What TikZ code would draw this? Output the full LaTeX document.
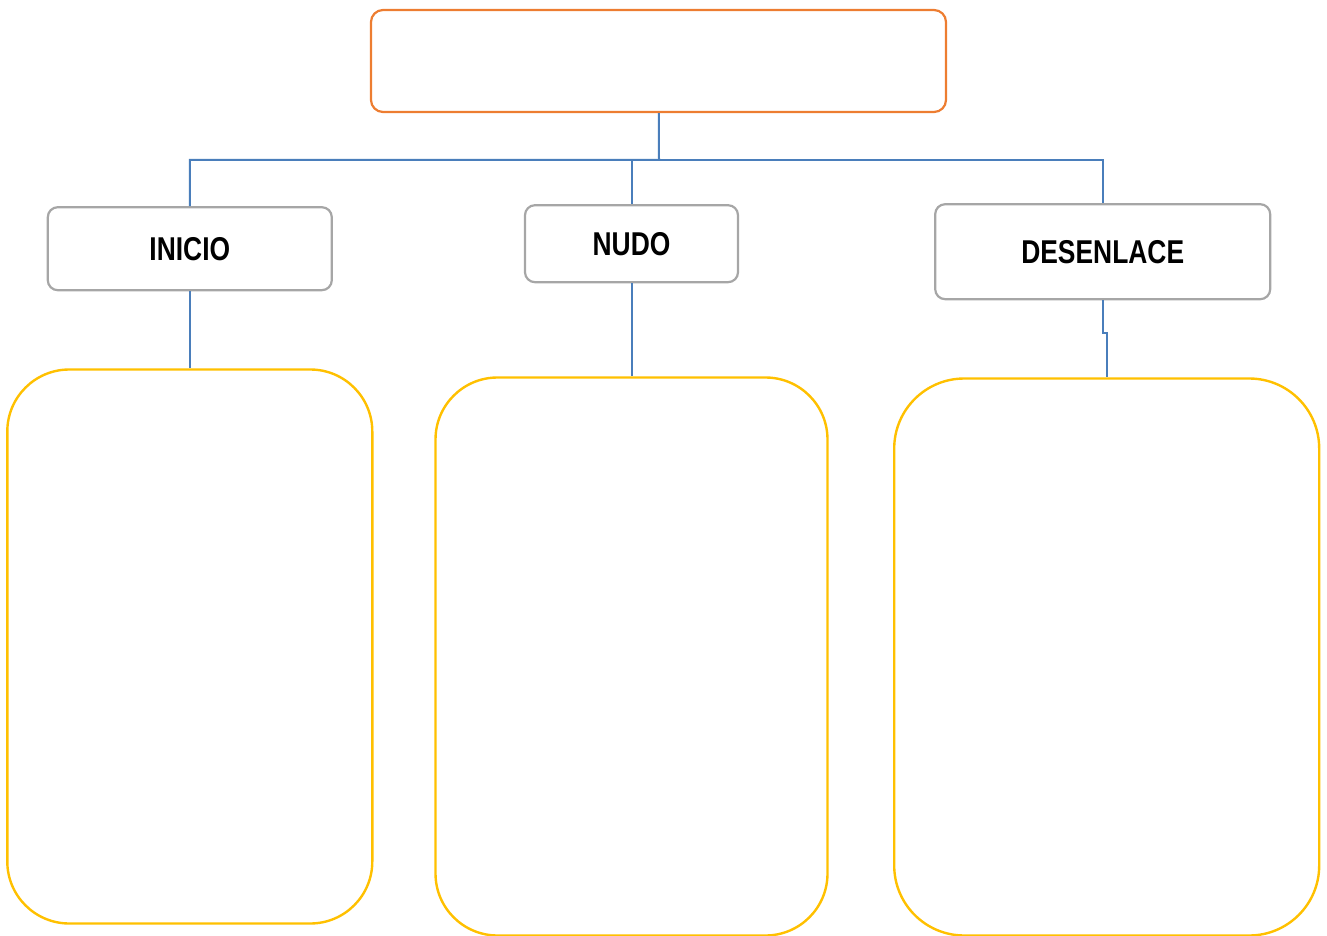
\documentclass[tikz,border=0pt]{standalone}
\usepackage{fontspec}
\setmainfont[FakeStretch=0.8]{Liberation Sans}
\usepackage{tikz}
\usetikzlibrary{shapes,positioning}
\definecolor{naranja}{HTML}{ED7D31}
\definecolor{gris}{HTML}{A6A6A6}
\definecolor{amarillo}{HTML}{FFC000}
\definecolor{azul}{HTML}{4A7EBB}
\tikzstyle{tema} = [rectangle,rounded corners=12pt, minimum width=575pt, minimum height=102pt, draw=naranja, line width=2.2pt]
\tikzstyle{parte} = [rectangle,rounded corners=10pt, draw=gris, line width=2.2pt, text centered, font=\fontsize{33}{36}\selectfont\bfseries]
\tikzstyle{cuadro} = [rectangle,rounded corners=62pt, draw=amarillo, line width=2.4pt]
\tikzstyle{linea} = [draw=azul, line width=2pt]

\begin{document}
\begin{tikzpicture}
\useasboundingbox (0,0) rectangle (1327pt,-936pt);

\node(titulo)[tema] at (658.5pt,-61pt) {};

\node(nudo)[parte, minimum width=213pt, minimum height=77pt, below=91pt of titulo, xshift=-27pt]{NUDO};

\node(inicio)[parte, minimum width=284pt, minimum height=83pt, left=191pt of nudo, yshift=-5pt]{INICIO};

\node(desenlace)[parte, minimum width=335pt, minimum height=95pt, right=195pt of nudo, yshift=-8pt]{DESENLACE};

\node(cajaA)[cuadro, minimum width=365pt, minimum height=554pt, below=77pt of inicio]{};
\node(cajaB)[cuadro, minimum width=392pt, minimum height=558pt, below=93pt of nudo]{};
\node(cajaC)[cuadro, rounded corners=70pt, minimum width=425pt, minimum height=557pt, below=77pt of desenlace, xshift=4pt]{};

% ramas
\coordinate (centro) at (659pt,-160pt);
\draw[linea] (titulo) -- (centro) -| (inicio);
\draw[linea] (centro) -| (nudo);
\draw[linea] (centro) -| (desenlace);
\draw[linea] (inicio) -- (cajaA) (nudo) -- (cajaB);
\draw[linea] (desenlace.south) -- ++(0,-33pt) -| (cajaC);

\end{tikzpicture}
\end{document}
